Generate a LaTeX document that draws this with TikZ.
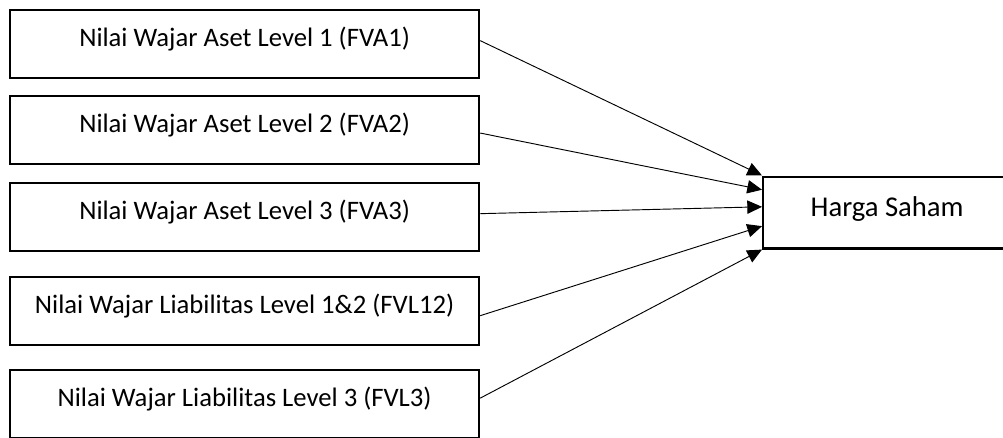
\documentclass[tikz,border=0pt]{standalone}
\usepackage{fontspec}
\setmainfont{Carlito}
\usetikzlibrary{arrows.meta,positioning}

\begin{document}
\begin{tikzpicture}[x=0.75pt,y=-0.75pt,
  varbox/.style={draw,line width=1.7pt,anchor=north west,inner sep=0pt,
    minimum width=351.75pt,minimum height=51pt,
    font=\fontsize{20}{24}\selectfont,text height=8pt,text depth=5pt},
  targetbox/.style={draw,line width=1.7pt,anchor=north west,inner sep=0pt,
    minimum width=190pt,minimum height=53.5pt,
    font=\fontsize{21.5}{25}\selectfont,text height=8.5pt,text depth=3.5pt},
  link/.style={line width=0.7pt,-{Triangle[length=11pt,width=10pt]}}]
  \useasboundingbox (0,0) rectangle (1003,438);
  \begin{scope}
    \clip (0,0) rectangle (1003,438);

    % independent variables
    \node[varbox] (fva1) at (9,9)   {Nilai Wajar Aset Level 1 (FVA1)};
    \node[varbox] (fva2) at (9,95)  {Nilai Wajar Aset Level 2 (FVA2)};
    \node[varbox] (fva3) at (9,182) {Nilai Wajar Aset Level 3 (FVA3)};
    \node[varbox] (fvl12) at (9,276) {Nilai Wajar Liabilitas Level 1\&2 (FVL12)};
    \node[varbox] (fvl3) at (9,369) {Nilai Wajar Liabilitas Level 3 (FVL3)};

    % dependent variable, running past the right edge
    \node[targetbox] (hs) at (762,176) {\hspace*{-4pt}Harga Saham};

    % arrows into the dependent variable
    \draw[link] ([yshift=2.6pt]fva1.east) -- ([yshift=0.4pt]hs.north west);
    \draw[link] ([yshift=-2.2pt]fva2.east) -- ([yshift=17.3pt]hs.west);
    \draw[link] ([yshift=2.6pt]fva3.east) -- ([yshift=4.5pt]hs.west);
    \draw[link] ([yshift=-3.4pt]fvl12.east) -- ([yshift=-10pt]hs.west);
    \draw[link] ([yshift=4.5pt]fvl3.east) -- (hs.south west);
  \end{scope}
\end{tikzpicture}
\end{document}
